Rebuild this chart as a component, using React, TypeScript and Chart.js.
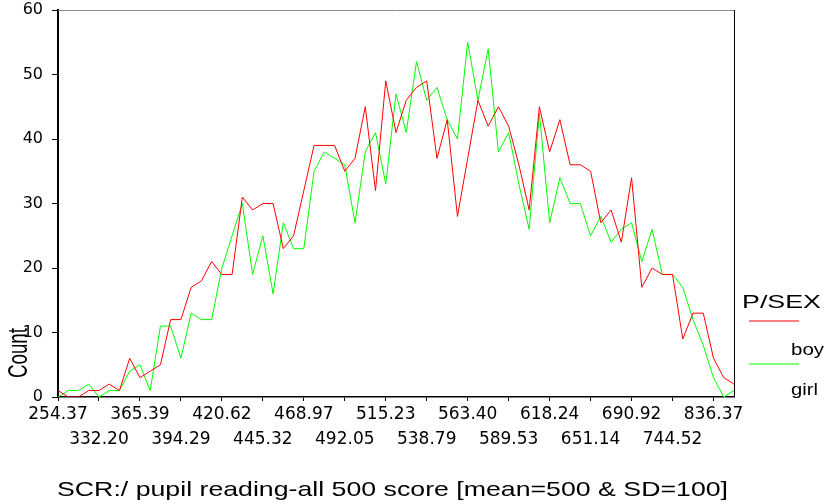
import React, { useEffect, useRef } from "react";
import { Chart, registerables } from "chart.js";

Chart.register(...registerables);

// Tick labels shown on the x axis (every 4th score category)
const tickLabels = [
  "254.37", "332.20", "365.39", "394.29", "420.62", "445.32", "468.97", "492.05", "515.23",
  "538.79", "563.40", "589.53", "618.24", "651.14", "690.92", "744.52", "836.37",
];

// Counts per score category (67 categories)
const boyCounts = [
  1, 0, 0, 1, 1, 2, 1, 6, 3, 4, 5, 12, 12, 17, 18, 21, 19, 19, 31, 29, 30, 30, 23, 25, 32, 39, 39, 39,
  35, 37, 45, 32, 49, 41, 46, 48, 49, 37, 43, 28, 37, 46, 42, 45, 42, 36, 29, 45, 38, 43, 36, 36, 35,
  27, 29, 24, 34, 17, 20, 19, 19, 9, 13, 13, 6, 3, 2,
];
const girlCounts = [
  0, 1, 1, 2, 0, 1, 1, 4, 5, 1, 11, 11, 6, 13, 12, 12, 20, 25, 30, 19, 25, 16, 27, 23, 23, 35, 38, 37,
  36, 27, 38, 41, 33, 47, 41, 52, 46, 48, 43, 40, 55, 46, 54, 38, 41, 33, 26, 44, 27, 34, 30, 30, 25,
  28, 24, 26, 27, 21, 26, 19, 19, 17, 12, 8, 3, 0, 1,
];

const seriesNames = ["boy", "girl"];
const seriesColors = ["#ff0000", "#00ff00"];
const legendTitle = "P/SEX";
const xTitle = "SCR:/ pupil reading-all 500 score [mean=500 & SD=100]";
const yTitle = "Count";
const yMin = 0;
const yMax = 60;
const yStep = 10;
const labelEvery = 4;

const decorations = {
  id: "decorations",
  afterDraw(chart: any) {
    const ctx = chart.ctx as CanvasRenderingContext2D;
    const { left, right, top, bottom } = chart.chartArea;
    ctx.save();
    // frame: top (grey) and right (black)
    ctx.lineWidth = 1;
    ctx.strokeStyle = "#8a8a8a";
    ctx.beginPath();
    ctx.moveTo(left, top + 0.5);
    ctx.lineTo(right + 1, top + 0.5);
    ctx.stroke();
    ctx.strokeStyle = "#000";
    ctx.beginPath();
    ctx.moveTo(right + 0.5, top);
    ctx.lineTo(right + 0.5, bottom);
    ctx.stroke();

    const stretched = (text: string, font: string, x: number, y: number, width: number) => {
      ctx.font = font;
      const w = ctx.measureText(text).width;
      ctx.save();
      ctx.translate(x, y);
      ctx.scale(width / w, 1);
      ctx.textAlign = "left";
      ctx.textBaseline = "alphabetic";
      ctx.fillStyle = "#000";
      ctx.fillText(text, 0, 0);
      ctx.restore();
    };

    // x axis title
    stretched(xTitle, "21px 'Liberation Sans'", 57, 496, 671);

    // y axis title, rotated
    ctx.save();
    ctx.translate(26.5, 378);
    ctx.rotate(-Math.PI / 2);
    ctx.font = "27px 'Liberation Sans'";
    const cw = ctx.measureText(yTitle).width;
    ctx.scale(50 / cw, 1);
    ctx.fillStyle = "#000";
    ctx.textAlign = "left";
    ctx.textBaseline = "alphabetic";
    ctx.fillText(yTitle, 0, 0);
    ctx.restore();

    // legend
    stretched(legendTitle, "18.5px 'Liberation Sans'", 742, 308, 79);
    chart.data.datasets.forEach((ds: any, i: number) => {
      const ly = 321 + i * 43;
      ctx.strokeStyle = seriesColors[i];
      ctx.lineWidth = 1.2;
      ctx.beginPath();
      ctx.moveTo(749, ly);
      ctx.lineTo(799, ly);
      ctx.stroke();
      const tw = ds.label === "boy" ? 33 : 27;
      stretched(ds.label, "16px 'Liberation Sans'", 791, 355 + i * 40, tw);
    });
    ctx.restore();
  },
};

export default function App() {
  const ref = useRef<HTMLCanvasElement | null>(null);

  useEffect(() => {
    if (!ref.current) return;
    const series = [boyCounts, girlCounts];
    const chart = new Chart(ref.current, {
      type: "line",
      data: {
        datasets: series.map((vals, s) => ({
          label: seriesNames[s],
          data: vals.map((v, i) => ({ x: i, y: v })),
          borderColor: seriesColors[s],
          backgroundColor: seriesColors[s],
          borderWidth: 1,
          pointRadius: 0,
          tension: 0,
          fill: false,
        })),
      },
      options: {
        responsive: false,
        animation: false,
        events: [],
        layout: { padding: { top: 10, right: 97, left: 0, bottom: 0 } },
        plugins: {
          legend: { display: false },
          title: { display: false },
          tooltip: { enabled: false },
        },
        scales: {
          x: {
            type: "linear",
            min: 0,
            max: boyCounts.length - 1,
            afterFit: (s: any) => {
              s.height = 106;
              s.paddingLeft = 0;
              s.paddingRight = 0;
            },
            border: { display: true, color: "#000", width: 1.5 },
            grid: {
              display: true,
              drawOnChartArea: false,
              drawTicks: true,
              tickLength: 4,
              tickColor: "#000",
              tickWidth: 1,
            },
            ticks: {
              stepSize: labelEvery,
              includeBounds: false,
              autoSkip: false,
              maxRotation: 0,
              minRotation: 0,
              padding: 1,
              color: "#000",
              font: { family: "'DejaVu Sans'", size: 17, lineHeight: 1.47 },
              callback: (value: any, index: number) => {
                const label = tickLabels[Math.round(Number(value) / labelEvery)] ?? "";
                return index % 2 === 1 ? ["", label] : label;
              },
            },
          },
          y: {
            type: "linear",
            min: yMin,
            max: yMax,
            afterFit: (s: any) => {
              s.width = 58;
              s.paddingTop = 0;
              s.paddingBottom = 0;
            },
            border: { display: true, color: "#000", width: 2 },
            grid: {
              display: true,
              drawOnChartArea: false,
              drawTicks: true,
              tickLength: 6,
              tickColor: "#000",
              tickWidth: 1,
            },
            ticks: {
              stepSize: yStep,
              padding: 9,
              color: "#000",
              font: { family: "'DejaVu Sans'", size: 16 },
            },
          },
        },
      },
      plugins: [decorations],
    });
    return () => chart.destroy();
  }, []);

  return (
    <div style={{ position: "fixed", left: 0, top: 0, width: 831, height: 503, background: "#fff" }}>
      <canvas ref={ref} width={831} height={503} style={{ display: "block" }} />
    </div>
  );
}
